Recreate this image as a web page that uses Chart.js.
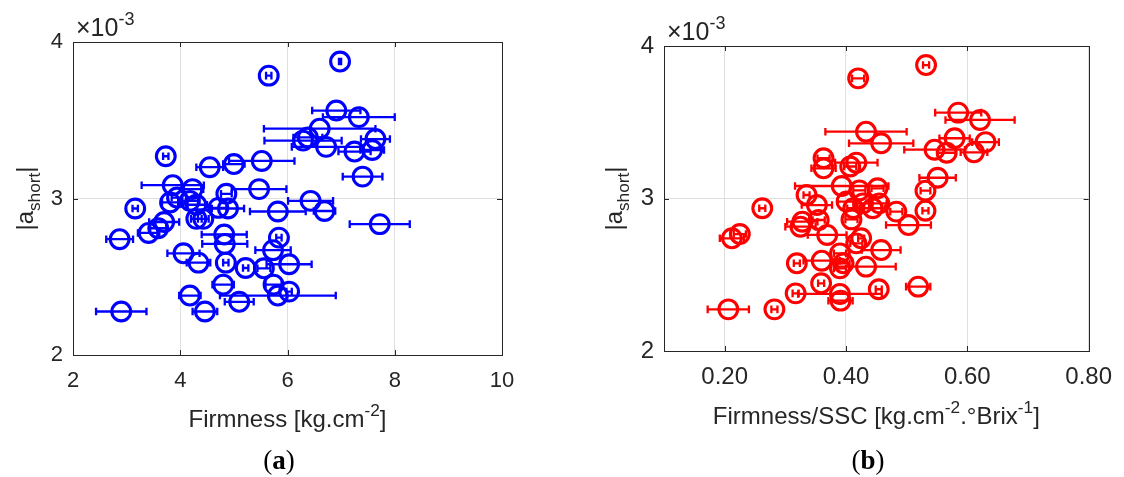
<!DOCTYPE html>
<html>
<head>
<meta charset="utf-8">
<script src="https://cdn.jsdelivr.net/npm/chart.js@4.4.1/dist/chart.umd.min.js"></script>
<style>
  body { margin: 0; background: #fff; }
  #wrap { position: relative; width: 1124px; height: 477px; }
  canvas { position: absolute; top: 0; }
  #chartA { left: 0; }
  #chartB { left: 560px; }
</style>
</head>
<body>
<div id="wrap">
  <canvas id="chartA" width="560" height="477"></canvas>
  <canvas id="chartB" width="564" height="477"></canvas>
</div>
<script>
// values, |a_short| in units of 1e-3
const firmness = [5.65, 6.98, 6.91, 7.33, 6.60, 6.38, 6.29, 6.72, 7.64, 7.58, 7.25, 7.40, 3.73, 4.55, 5.00,
    5.52, 3.86, 4.23, 4.86, 5.47, 6.43, 6.69, 7.72, 5.82, 3.16, 2.87, 3.41, 3.59, 3.70, 3.81, 3.94, 4.18,
    4.30, 4.30, 4.43, 4.71, 4.89, 4.82, 4.83, 5.84, 5.73, 4.06, 4.34, 4.85, 5.22, 5.56, 6.03, 4.80, 5.74,
    5.82, 6.03, 4.18, 5.10, 4.46, 2.90];
const firmnessErr = [0.05, 0.02, 0.45, 0.67, 1.04, 0.27, 0.72, 0.64, 0.27, 0.22, 0.30, 0.37, 0.05, 0.25, 0.20,
    0.61, 0.58, 0.20, 0.10, 0.51, 0.42, 0.20, 0.56, 0.52, 0.05, 0.25, 0.20, 0.15, 0.28, 0.15, 0.10, 0.15,
    0.20, 0.10, 0.10, 0.15, 0.30, 0.42, 0.42, 0.05, 0.33, 0.30, 0.22, 0.05, 0.05, 0.12, 0.42, 0.20, 0.15,
    1.08, 0.05, 0.20, 0.27, 0.23, 0.47];
const aShortA = [3.785, 3.875, 3.562, 3.520, 3.446, 3.390, 3.370, 3.330, 3.380, 3.310, 3.300, 3.140, 3.270, 3.200, 3.220,
    3.240, 3.085, 3.060, 3.030, 3.060, 2.985, 2.920, 2.836, 2.917, 2.936, 2.740, 2.780, 2.810, 2.850, 2.975, 3.006, 2.985,
    2.960, 2.870, 2.870, 2.940, 2.936, 2.770, 2.710, 2.750, 2.670, 2.650, 2.590, 2.590, 2.556, 2.554, 2.580, 2.450, 2.450,
    2.380, 2.405, 2.380, 2.340, 2.278, 2.278];

const ratio = [0.420, 0.532, 0.585, 0.621, 0.433, 0.458, 0.546, 0.579, 0.566, 0.611, 0.630, 0.363, 0.363, 0.407, 0.417,
    0.551, 0.531, 0.393, 0.422, 0.452, 0.335, 0.352, 0.401, 0.412, 0.444, 0.428, 0.455, 0.483, 0.531, 0.503,
    0.262, 0.328, 0.325, 0.355, 0.369, 0.409, 0.212, 0.225, 0.425, 0.417, 0.458, 0.390, 0.319, 0.360, 0.396,
    0.390, 0.433, 0.359, 0.390, 0.454, 0.519, 0.391, 0.206, 0.282, 0.317];
const ratioErr = [0.010, 0.005, 0.038, 0.057, 0.067, 0.053, 0.050, 0.025, 0.015, 0.022, 0.022, 0.010, 0.020, 0.010, 0.035,
    0.030, 0.008, 0.077, 0.010, 0.010, 0.005, 0.025, 0.015, 0.010, 0.020, 0.010, 0.012, 0.010, 0.005, 0.037,
    0.005, 0.025, 0.025, 0.010, 0.032, 0.010, 0.020, 0.010, 0.005, 0.010, 0.032, 0.010, 0.005, 0.030, 0.010,
    0.010, 0.049, 0.005, 0.069, 0.005, 0.020, 0.020, 0.034, 0.005, 0.005];
const aShortB = [3.788, 3.875, 3.563, 3.515, 3.438, 3.362, 3.320, 3.395, 3.300, 3.303, 3.370, 3.264, 3.198, 3.210, 3.235,
    3.136, 3.051, 3.082, 3.053, 3.067, 3.023, 2.957, 2.980, 2.936, 2.936, 2.968, 2.968, 2.914, 2.920, 2.826,
    2.936, 2.848, 2.815, 2.859, 2.761, 2.863, 2.739, 2.767, 2.739, 2.706, 2.662, 2.640, 2.575, 2.592, 2.575,
    2.542, 2.553, 2.444, 2.374, 2.405, 2.422, 2.330, 2.273, 2.273, 2.378];

const firmTicks = [2, 4, 6, 8, 10];
const ratioTicks = [0.2, 0.4, 0.6, 0.8];
const yTicks = [2, 3, 4];

const FONT = "'Liberation Sans', Arial, Helvetica, sans-serif";
const INK = '#262626';

// text with super/subscripts: parts = [[text, 0|1|-1], ...]
function partsWidth(ctx, parts, size) {
    let w = 0;
    parts.forEach(p => {
        ctx.font = (p[1] ? size * 0.72 : size) + 'px ' + FONT;
        w += ctx.measureText(p[0]).width;
    });
    return w;
}
function drawParts(ctx, parts, x, y, size, align) {
    let cx = align === 'center' ? x - partsWidth(ctx, parts, size) / 2 : x;
    ctx.fillStyle = INK;
    ctx.textBaseline = 'alphabetic';
    ctx.textAlign = 'left';
    parts.forEach(p => {
        let s = p[1] ? size * 0.72 : size;
        let dy = p[1] === 1 ? -size * 0.45 : (p[1] === -1 ? size * 0.28 : 0);
        ctx.font = s + 'px ' + FONT;
        ctx.fillText(p[0], cx, y + dy);
        cx += ctx.measureText(p[0]).width;
    });
}

const frame = {
    id: 'frame',
    beforeDatasetsDraw(chart, args, o) {
        const ctx = chart.ctx, xs = chart.scales.x, ys = chart.scales.y;
        const pts = chart.data.datasets[0].data;
        ctx.save();
        ctx.strokeStyle = o.color;
        ctx.lineWidth = 2.3;
        o.err.forEach((e, i) => {
            const x0 = xs.getPixelForValue(pts[i].x - e), x1 = xs.getPixelForValue(pts[i].x + e);
            const y = ys.getPixelForValue(pts[i].y);
            ctx.beginPath();
            ctx.moveTo(x0, y); ctx.lineTo(x1, y);
            ctx.moveTo(x0, y - 3.8); ctx.lineTo(x0, y + 3.8);
            ctx.moveTo(x1, y - 3.8); ctx.lineTo(x1, y + 3.8);
            ctx.stroke();
        });
        ctx.restore();
    },
    afterDraw(chart, args, o) {
        const ctx = chart.ctx, a = chart.chartArea, xs = chart.scales.x, ys = chart.scales.y;
        ctx.save();
        ctx.strokeStyle = INK;
        ctx.lineWidth = 1;
        ctx.strokeRect(Math.round(a.left) + 0.5, Math.round(a.top) + 0.5, Math.round(a.right - a.left), Math.round(a.bottom - a.top));
        ctx.beginPath();
        xs.ticks.forEach(t => {
            const px = Math.round(xs.getPixelForValue(t.value)) + 0.5;
            ctx.moveTo(px, a.bottom); ctx.lineTo(px, a.bottom - 5);
            ctx.moveTo(px, a.top); ctx.lineTo(px, a.top + 5);
        });
        ys.ticks.forEach(t => {
            const py = Math.round(ys.getPixelForValue(t.value)) + 0.5;
            ctx.moveTo(a.left, py); ctx.lineTo(a.left + 5, py);
            ctx.moveTo(a.right, py); ctx.lineTo(a.right - 5, py);
        });
        ctx.stroke();

        // x title
        drawParts(ctx, o.xTitle, (a.left + a.right) / 2, o.xTitleY, o.titleSize, 'center');
        // y title, rotated
        ctx.save();
        ctx.translate(o.yTitleX, (a.top + a.bottom) / 2);
        ctx.rotate(-Math.PI / 2);
        drawParts(ctx, [['|a', 0], ['short', -1], ['|', 0]], 0, 0, o.titleSize, 'center');
        ctx.restore();
        // exponent
        drawParts(ctx, [['\u00d710', 0], ['-3', 1]], a.left + 3, a.top - 6, 25, 'left');
        // panel letter
        ctx.font = o.labelSize + 'px "Liberation Serif", "Times New Roman", serif';
        const w1 = ctx.measureText('(').width;
        ctx.font = 'bold ' + o.labelSize + 'px "Liberation Serif", "Times New Roman", serif';
        const w2 = ctx.measureText(o.letter).width;
        let lx = o.labelX - (w1 * 2 + w2) / 2;
        ctx.fillStyle = '#000';
        ctx.textAlign = 'left';
        ctx.font = o.labelSize + 'px "Liberation Serif", "Times New Roman", serif';
        ctx.fillText('(', lx, o.labelY);
        ctx.font = 'bold ' + o.labelSize + 'px "Liberation Serif", "Times New Roman", serif';
        ctx.fillText(o.letter, lx + w1, o.labelY);
        ctx.font = o.labelSize + 'px "Liberation Serif", "Times New Roman", serif';
        ctx.fillText(')', lx + w1 + w2, o.labelY);
        ctx.restore();
    }
};

function makeChart(id, xs, ys, err, color, xTicks, p) {
    const pts = xs.map((v, i) => ({ x: v, y: ys[i] }));
    return new Chart(document.getElementById(id), {
        type: 'scatter',
        data: {
            datasets: [{
                data: pts,
                pointRadius: 9.4,
                pointHoverRadius: 9.4,
                pointBorderWidth: 3.1,
                pointBorderColor: color,
                pointBackgroundColor: 'rgba(0,0,0,0)'
            }]
        },
        options: {
            responsive: false,
            animation: false,
            devicePixelRatio: 1,
            layout: { padding: { top: p.top, right: p.right, left: 0, bottom: 0 } },
            plugins: {
                legend: { display: false },
                tooltip: { enabled: false },
                frame: {
                    color: color, err: err, xTitle: p.xTitle, xTitleY: p.xTitleY, yTitleX: p.yTitleX,
                    titleSize: p.titleSize, tickSize: p.tickSize, letter: p.letter,
                    labelX: p.labelX, labelY: 469, labelSize: 27
                }
            },
            scales: {
                x: {
                    type: 'linear', min: p.xMin, max: p.xMax,
                    afterBuildTicks: s => { s.ticks = xTicks.map(v => ({ value: v })); },
                    afterFit: s => { s.height = 477 - p.bottom; },
                    grid: { color: '#dfdfdf', drawTicks: false },
                    border: { display: false },
                    ticks: {
                        padding: p.xPad, color: INK, font: { family: FONT, size: p.tickSize },
                        maxRotation: 0, autoSkip: false,
                        callback: v => p.fmt(v)
                    }
                },
                y: {
                    type: 'linear', min: 2, max: 4,
                    afterBuildTicks: s => { s.ticks = yTicks.map(v => ({ value: v })); },
                    afterFit: s => { s.width = p.left; },
                    grid: { color: '#dfdfdf', drawTicks: false },
                    border: { display: false },
                    ticks: { padding: 10, color: INK, font: { family: FONT, size: p.tickSize }, callback: v => String(v) }
                }
            }
        },
        plugins: [frame]
    });
}

makeChart('chartA', firmness, aShortA, firmnessErr, '#0000ff', firmTicks, {
    top: 42, right: 58, left: 73, bottom: 355, xMin: 2, xMax: 10, xPad: 13,
    tickSize: 22, titleSize: 24, yTitleX: 33, xTitleY: 427,
    xTitle: [['Firmness [kg.cm', 0], ['-2', 1], [']', 0]],
    letter: 'a', labelX: 279, fmt: v => String(v)
});
makeChart('chartB', ratio, aShortB, ratioErr, '#ff0000', ratioTicks, {
    top: 46, right: 28, left: 104, bottom: 351, xMin: 0.1, xMax: 0.8, xPad: 12,
    tickSize: 24, titleSize: 24, yTitleX: 62, xTitleY: 424,
    xTitle: [['Firmness/SSC [kg.cm', 0], ['-2', 1], ['.\u00b0Brix', 0], ['-1', 1], [']', 0]],
    letter: 'b', labelX: 308, fmt: v => v.toFixed(2)
});
</script>
</body>
</html>
